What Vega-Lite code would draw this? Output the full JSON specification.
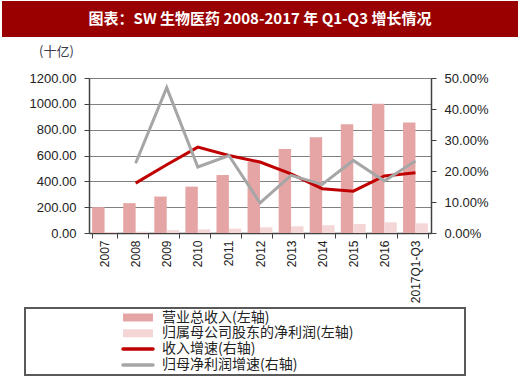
{
  "$schema": "https://vega.github.io/schema/vega-lite/v6.json",
  "padding": {"left": 2, "top": 1, "right": 2, "bottom": 0},
  "background": "white",
  "bounds": "flush",
  "center": true,
  "spacing": 41,
  "config": {"view": {"stroke": null}},
  "datasets": {
    "banner": [{"title": "图表：SW 生物医药 2008-2017 年 Q1-Q3 增长情况"}],
    "main": [
      {"year": "2007", "series": "营业总收入(左轴)", "kind": "bar", "value": 200},
      {"year": "2008", "series": "营业总收入(左轴)", "kind": "bar", "value": 231},
      {"year": "2009", "series": "营业总收入(左轴)", "kind": "bar", "value": 282},
      {"year": "2010", "series": "营业总收入(左轴)", "kind": "bar", "value": 359},
      {"year": "2011", "series": "营业总收入(左轴)", "kind": "bar", "value": 449},
      {"year": "2012", "series": "营业总收入(左轴)", "kind": "bar", "value": 551},
      {"year": "2013", "series": "营业总收入(左轴)", "kind": "bar", "value": 651},
      {"year": "2014", "series": "营业总收入(左轴)", "kind": "bar", "value": 741},
      {"year": "2015", "series": "营业总收入(左轴)", "kind": "bar", "value": 842},
      {"year": "2016", "series": "营业总收入(左轴)", "kind": "bar", "value": 1000},
      {"year": "2017Q1-Q3", "series": "营业总收入(左轴)", "kind": "bar", "value": 855},
      {"year": "2007", "series": "归属母公司股东的净利润(左轴)", "kind": "bar", "value": 8},
      {"year": "2008", "series": "归属母公司股东的净利润(左轴)", "kind": "bar", "value": 10},
      {"year": "2009", "series": "归属母公司股东的净利润(左轴)", "kind": "bar", "value": 23},
      {"year": "2010", "series": "归属母公司股东的净利润(左轴)", "kind": "bar", "value": 28},
      {"year": "2011", "series": "归属母公司股东的净利润(左轴)", "kind": "bar", "value": 34},
      {"year": "2012", "series": "归属母公司股东的净利润(左轴)", "kind": "bar", "value": 44},
      {"year": "2013", "series": "归属母公司股东的净利润(左轴)", "kind": "bar", "value": 52},
      {"year": "2014", "series": "归属母公司股东的净利润(左轴)", "kind": "bar", "value": 60},
      {"year": "2015", "series": "归属母公司股东的净利润(左轴)", "kind": "bar", "value": 70},
      {"year": "2016", "series": "归属母公司股东的净利润(左轴)", "kind": "bar", "value": 83},
      {"year": "2017Q1-Q3", "series": "归属母公司股东的净利润(左轴)", "kind": "bar", "value": 75},
      {"year": "2008", "series": "收入增速(右轴)", "kind": "line", "value": 0.161},
      {"year": "2009", "series": "收入增速(右轴)", "kind": "line", "value": 0.22},
      {"year": "2010", "series": "收入增速(右轴)", "kind": "line", "value": 0.277},
      {"year": "2011", "series": "收入增速(右轴)", "kind": "line", "value": 0.25},
      {"year": "2012", "series": "收入增速(右轴)", "kind": "line", "value": 0.229},
      {"year": "2013", "series": "收入增速(右轴)", "kind": "line", "value": 0.191},
      {"year": "2014", "series": "收入增速(右轴)", "kind": "line", "value": 0.143},
      {"year": "2015", "series": "收入增速(右轴)", "kind": "line", "value": 0.135},
      {"year": "2016", "series": "收入增速(右轴)", "kind": "line", "value": 0.184},
      {"year": "2017Q1-Q3", "series": "收入增速(右轴)", "kind": "line", "value": 0.194},
      {"year": "2008", "series": "归母净利润增速(右轴)", "kind": "line", "value": 0.225},
      {"year": "2009", "series": "归母净利润增速(右轴)", "kind": "line", "value": 0.469},
      {"year": "2010", "series": "归母净利润增速(右轴)", "kind": "line", "value": 0.213},
      {"year": "2011", "series": "归母净利润增速(右轴)", "kind": "line", "value": 0.25},
      {"year": "2012", "series": "归母净利润增速(右轴)", "kind": "line", "value": 0.097},
      {"year": "2013", "series": "归母净利润增速(右轴)", "kind": "line", "value": 0.186},
      {"year": "2014", "series": "归母净利润增速(右轴)", "kind": "line", "value": 0.157},
      {"year": "2015", "series": "归母净利润增速(右轴)", "kind": "line", "value": 0.234},
      {"year": "2016", "series": "归母净利润增速(右轴)", "kind": "line", "value": 0.168},
      {"year": "2017Q1-Q3", "series": "归母净利润增速(右轴)", "kind": "line", "value": 0.232}
    ]
  },
  "vconcat": [
    {
      "width": 516,
      "height": 36,
      "view": {"fill": "#990000", "stroke": null},
      "data": {"name": "banner"},
      "mark": {"type": "text", "font": "Noto Sans CJK SC", "fontSize": 15, "fontWeight": "bold", "color": "white", "align": "center", "baseline": "middle"},
      "encoding": {"text": {"field": "title"}}
    },
    {
      "width": 342,
      "height": 155,
      "data": {"name": "main"},
      "layer": [
        {
          "transform": [{"filter": "datum.kind === 'bar'"}],
          "mark": {"type": "bar"},
          "encoding": {
            "x": {
              "field": "year", "type": "nominal",
              "scale": {"domain": ["2007","2008","2009","2010","2011","2012","2013","2014","2015","2016","2017Q1-Q3"], "paddingInner": 0.2, "paddingOuter": 0.1},
              "axis": {"title": null, "labelAngle": -90, "tickBand": "extent", "labelFont": "Liberation Sans", "labelFontSize": 12, "labelColor": "#222", "labelPadding": 2, "tickSize": 5, "domainColor": "#404040", "tickColor": "#404040", "domainWidth": 1.5}
            },
            "xOffset": {"field": "series", "type": "nominal", "scale": {"domain": ["营业总收入(左轴)", "归属母公司股东的净利润(左轴)"]}},
            "y": {
              "field": "value", "type": "quantitative",
              "scale": {"domain": [0, 1200], "nice": false},
              "axis": {"orient": "left", "values": [0,200,400,600,800,1000,1200], "format": ".2f", "grid": true, "gridColor": "#808080", "gridWidth": 1.2, "domainColor": "#404040", "domainWidth": 1.5, "tickColor": "#404040", "tickSize": 5, "labelPadding": 8, "labelFont": "Liberation Sans", "labelFontSize": 13, "labelColor": "#222", "title": "(十亿)", "titleAngle": 0, "titleX": -33, "titleY": -23, "titleAlign": "center", "titleBaseline": "alphabetic", "titleFont": "Noto Sans CJK SC", "titleFontSize": 13, "titleFontWeight": "normal", "titleColor": "#3a3a4a"}
            },
            "color": {
              "field": "series", "type": "nominal",
              "scale": {"domain": ["营业总收入(左轴)", "归属母公司股东的净利润(左轴)", "收入增速(右轴)", "归母净利润增速(右轴)"], "range": ["#e6a5a5", "#f5d6d6", "#c00000", "#a6a6a6"]},
              "legend": {
                "orient": "none", "legendX": 23, "legendY": 307, "direction": "vertical",
                "title": "\u00a0", "titleOrient": "right", "titlePadding": 110, "titleFontSize": 8,
                "strokeColor": "#595959", "padding": 2,
                "symbolSize": 900, "clipHeight": 15, "symbolOffset": 104, "labelOffset": 17,
                "rowPadding": 0.8, "labelLimit": 400,
                "labelFont": "Noto Sans CJK SC", "labelFontSize": 14, "labelColor": "#222",
                "encode": {
                  "legend": {"update": {"strokeWidth": {"value": 2}}},
                  "symbols": {"update": {
                    "shape": {"signal": "test(/增速/, datum.value) ? 'stroke' : 'M-1,-0.27H1V0.27H-1Z'"},
                    "fill": {"signal": "test(/增速/, datum.value) ? 'transparent' : scale('color', datum.value)"},
                    "stroke": {"signal": "test(/增速/, datum.value) ? scale('color', datum.value) : 'transparent'"},
                    "strokeWidth": {"signal": "test(/增速/, datum.value) ? 3.5 : 0"},
                    "strokeCap": {"value": "round"},
                    "opacity": {"value": 1}
                  }}
                }
              }
            }
          }
        },
        {
          "transform": [{"filter": "datum.kind === 'line'"}],
          "mark": {"type": "line", "strokeWidth": 3},
          "encoding": {
            "x": {"field": "year", "type": "nominal"},
            "y": {
              "field": "value", "type": "quantitative",
              "scale": {"domain": [0, 0.5], "nice": false},
              "axis": {"orient": "right", "values": [0,0.1,0.2,0.3,0.4,0.5], "format": ".2%", "grid": false, "domainColor": "#404040", "domainWidth": 1.5, "tickColor": "#404040", "tickSize": 5, "labelPadding": 8, "labelFont": "Liberation Sans", "labelFontSize": 13, "labelColor": "#222", "title": null}
            },
            "color": {"field": "series", "type": "nominal"}
          }
        }
      ],
      "resolve": {"scale": {"y": "independent"}}
    }
  ]
}
